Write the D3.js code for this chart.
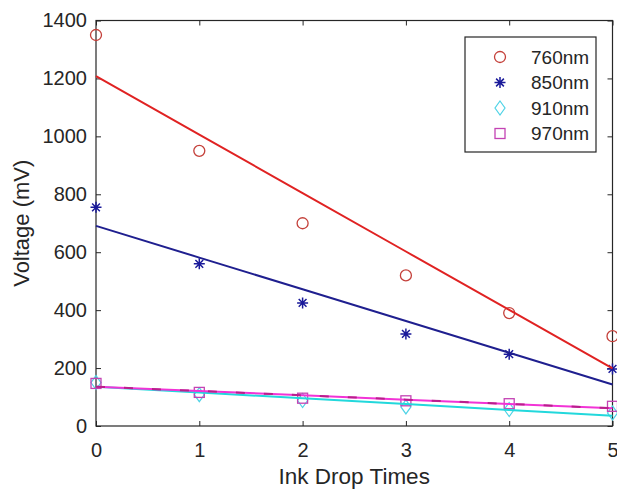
<!DOCTYPE html>
<html><head><meta charset="utf-8">
<script src="https://cdn.jsdelivr.net/npm/d3@7/dist/d3.min.js"></script>
<style>
body{margin:0;background:#fff}
svg{display:block}
text{font-family:"Liberation Sans",Arial,sans-serif;fill:#262626}
</style></head><body>
<svg id="chart" width="617" height="490"></svg>
<script>
// ---- data ----
const dropTimes = [0, 1, 2, 3, 4, 5];
const xTickValues = [0, 1, 2, 3, 4, 5];
const yTickValues = [0, 200, 400, 600, 800, 1000, 1200, 1400];
const seriesNames = ["760nm", "850nm", "910nm", "970nm"];
const v760 = [1350, 950, 700, 520, 390, 310];
const v850 = [755, 560, 425, 318, 248, 197];
const v910 = [150, 108, 88, 66, 57, 45];
const v970 = [147, 116, 96, 87, 77, 68];
const xLabel = "Ink Drop Times";
const yLabel = "Voltage (mV)";

// ---- styles ----
const styles = [
  {marker:"circle", mColor:"#c4403a", lColor:"#e02222"},
  {marker:"asterisk", mColor:"#1a1a9a", lColor:"#1f1f8f"},
  {marker:"diamond", mColor:"#4fd3e6", lColor:"#22d8dc"},
  {marker:"square", mColor:"#c443b4", lColor:"#f233d6", dash:"#b8208a"}
];
const allValues = [v760, v850, v910, v970];

const svg = d3.select("#chart");
const L = 96, R = 612.5, T = 20.5, B = 426;
const x = d3.scaleLinear().domain([0, 5]).range([L, R]);
const y = d3.scaleLinear().domain([0, 1400]).range([B, T]);

// least-squares fit of each series
function fit(xs, ys) {
  const mx = d3.mean(xs), my = d3.mean(ys);
  let sxy = 0, sxx = 0;
  xs.forEach((xv, i) => { sxy += (xv - mx) * (ys[i] - my); sxx += (xv - mx) ** 2; });
  const b = sxy / sxx, a = my - b * mx;
  return xs.map(xv => [xv, a + b * xv]);
}

// axes
const tk = 5;
const ff = '"Liberation Sans",Arial,sans-serif';
svg.append("g").attr("transform", `translate(0,${B})`)
  .call(d3.axisBottom(x).tickValues(xTickValues).tickSize(-tk).tickSizeOuter(0).tickPadding(17).tickFormat(d3.format("d")))
  .call(g => g.select(".domain").remove())
  .call(g => g.selectAll("line").attr("stroke", "#262626"))
  .call(g => g.selectAll("text").attr("font-size", 20).style("font-family", ff).attr("fill", "#262626"));
svg.append("g").attr("transform", `translate(0,${T})`)
  .call(d3.axisTop(x).tickValues(xTickValues).tickSize(-tk).tickSizeOuter(0).tickFormat(""))
  .call(g => g.select(".domain").remove())
  .call(g => g.selectAll("line").attr("stroke", "#262626"));
svg.append("g").attr("transform", `translate(${L},0)`)
  .call(d3.axisLeft(y).tickValues(yTickValues).tickSize(-tk).tickSizeOuter(0).tickPadding(9).tickFormat(d3.format("d")))
  .call(g => g.select(".domain").remove())
  .call(g => g.selectAll("line").attr("stroke", "#262626"))
  .call(g => g.selectAll("text").attr("font-size", 20).style("font-family", ff).attr("fill", "#262626"));
svg.append("g").attr("transform", `translate(${R},0)`)
  .call(d3.axisRight(y).tickValues(yTickValues).tickSize(-tk).tickSizeOuter(0).tickFormat(""))
  .call(g => g.select(".domain").remove())
  .call(g => g.selectAll("line").attr("stroke", "#262626"));

svg.append("rect").attr("x", L).attr("y", T).attr("width", R - L).attr("height", B - T)
  .attr("fill", "none").attr("stroke", "#262626").attr("stroke-width", 1.2);

// labels
svg.append("text").attr("x", (L + R) / 2).attr("y", 484).attr("text-anchor", "middle")
  .attr("font-size", 22.5).text(xLabel);
svg.append("text").attr("transform", `translate(29,${(T + B) / 2}) rotate(-90)`)
  .attr("text-anchor", "middle").attr("font-size", 22).text(yLabel);

// markers
function drawMarker(g, type, color) {
  if (type === "circle") {
    g.append("circle").attr("r", 5.5).attr("fill", "none").attr("stroke", color).attr("stroke-width", 1.3);
  } else if (type === "asterisk") {
    const s = 5.5, d = s * 0.7071;
    g.append("path").attr("d", `M${-s},0L${s},0M0,${-s}L0,${s}M${-d},${-d}L${d},${d}M${-d},${d}L${d},${-d}`)
      .attr("stroke", color).attr("stroke-width", 1.5).attr("fill", "none");
  } else if (type === "diamond") {
    g.append("path").attr("d", "M0,-7L5,0L0,7L-5,0Z").attr("fill", "none").attr("stroke", color).attr("stroke-width", 1.2);
  } else if (type === "square") {
    g.append("rect").attr("x", -5).attr("y", -5).attr("width", 10).attr("height", 10)
      .attr("fill", "none").attr("stroke", color).attr("stroke-width", 1.3);
  }
}

const line = d3.line().x(d => x(d[0])).y(d => y(d[1]));
const plot = svg.append("g");
allValues.forEach((vals, i) => {
  const st = styles[i];
  const pts = dropTimes.map((t, j) => [t, vals[j]]);
  const mg = plot.append("g");
  pts.forEach(p => drawMarker(mg.append("g").attr("transform", `translate(${x(p[0])},${y(p[1])})`), st.marker, st.mColor));
});
allValues.forEach((vals, i) => {
  const st = styles[i];
  const f = fit(dropTimes, vals);
  plot.append("path").datum(f).attr("d", line).attr("fill", "none")
    .attr("stroke", st.lColor).attr("stroke-width", 2);
  if (st.dash) {
    plot.append("path").datum(f).attr("d", line).attr("fill", "none")
      .attr("stroke", st.dash).attr("stroke-width", 2).attr("stroke-dasharray", "9,19");
  }
});

// legend
const lg = svg.append("g");
lg.append("rect").attr("x", 465).attr("y", 37).attr("width", 131).attr("height", 115)
  .attr("fill", "#fff").attr("stroke", "#262626").attr("stroke-width", 1.2);
seriesNames.forEach((name, i) => {
  const cy = 57 + i * 25.5;
  drawMarker(lg.append("g").attr("transform", `translate(500,${cy})`), styles[i].marker, styles[i].mColor);
  lg.append("text").attr("x", 531).attr("y", cy).attr("dy", "0.35em").attr("font-size", 19).text(name);
});
</script>
</body></html>
